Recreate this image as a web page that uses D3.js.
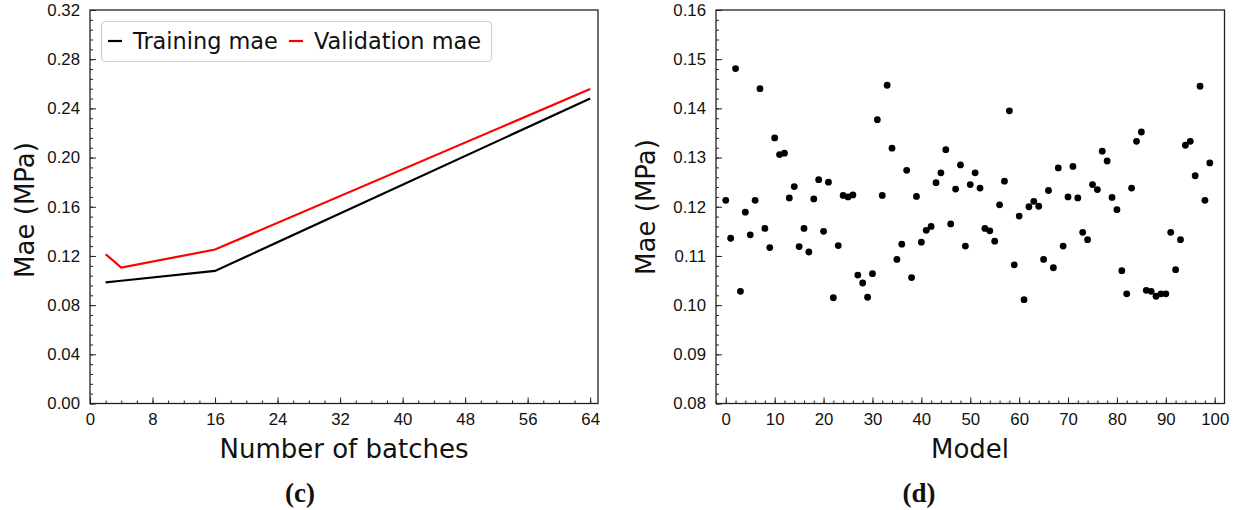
<!DOCTYPE html>
<html>
<head>
<meta charset="utf-8">
<script src="https://cdn.jsdelivr.net/npm/d3@7"></script>
<style>
  body { margin: 0; background: #fff; }
  svg { display: block; font-family: "DejaVu Sans", sans-serif; }
  .axis path { stroke: #222; stroke-width: 1.2; }
  .axis line { stroke: #222; stroke-width: 1; }
  .axis text { font-size: 16.8px; fill: #111; }
</style>
</head>
<body>
<svg id="chart" width="1238" height="510"></svg>
<script>
// --- panel (c): mae vs batches ---
const batches = [2, 4, 16, 64];
const trainMae = [0.0985, 0.0998, 0.1078, 0.2480];
const valMae = [0.1214, 0.1105, 0.1252, 0.2557];
const batchTicks = [0, 8, 16, 24, 32, 40, 48, 56, 64];
const maeTicksC = [0, 0.04, 0.08, 0.12, 0.16, 0.20, 0.24, 0.28, 0.32];

// --- panel (d): mae per model (index 0..99) ---
const modelMae = [
  0.1213, 0.1136, 0.1481, 0.1028, 0.1189, 0.1143, 0.1213, 0.1440, 0.1156, 0.1117,
  0.1340, 0.1306, 0.1309, 0.1218, 0.1241, 0.1119, 0.1156, 0.1108, 0.1216, 0.1255,
  0.1150, 0.1250, 0.1015, 0.1121, 0.1223, 0.1220, 0.1224, 0.1061, 0.1045, 0.1016,
  0.1064, 0.1377, 0.1223, 0.1447, 0.1319, 0.1093, 0.1124, 0.1274, 0.1056, 0.1221,
  0.1128, 0.1152, 0.1160, 0.1249, 0.1269, 0.1316, 0.1165, 0.1236, 0.1285, 0.1120,
  0.1245, 0.1269, 0.1238, 0.1156, 0.1151, 0.1130, 0.1204, 0.1252, 0.1395, 0.1082,
  0.1181, 0.1011, 0.1200, 0.1211, 0.1201, 0.1093, 0.1233, 0.1076, 0.1279, 0.1120,
  0.1220, 0.1282, 0.1218, 0.1148, 0.1133, 0.1245, 0.1235, 0.1313, 0.1293, 0.1219,
  0.1194, 0.1070, 0.1023, 0.1238, 0.1333, 0.1352, 0.1030, 0.1028, 0.1018, 0.1023,
  0.1023, 0.1148, 0.1072, 0.1133, 0.1325, 0.1333, 0.1263, 0.1445, 0.1213, 0.1289
];
const modelTicks = [0, 10, 20, 30, 40, 50, 60, 70, 80, 90, 100];
const maeTicksD = [0.08, 0.09, 0.10, 0.11, 0.12, 0.13, 0.14, 0.15, 0.16];

const svg = d3.select('#chart');

// draws a framed panel with inward major/minor ticks on left and bottom
function drawFrame(g, x, y, xMajor, xMinor, yMajor, yMinor, xFmt, yFmt) {
  const [x0, x1] = x.range();
  const [y0, y1] = y.range();

  g.append('g').attr('class', 'axis')
    .attr('transform', `translate(0,${y0})`)
    .call(d3.axisBottom(x).tickValues(xMinor).tickSize(-3).tickFormat(''))
    .call(s => s.select('.domain').remove());
  g.append('g').attr('class', 'axis')
    .attr('transform', `translate(0,${y0})`)
    .call(d3.axisBottom(x).tickValues(xMajor).tickSizeInner(-6).tickSizeOuter(0)
      .tickPadding(10).tickFormat(xFmt))
    .call(s => s.select('.domain').remove());

  g.append('g').attr('class', 'axis')
    .attr('transform', `translate(${x0},0)`)
    .call(d3.axisLeft(y).tickValues(yMinor).tickSize(-3).tickFormat(''))
    .call(s => s.select('.domain').remove());
  g.append('g').attr('class', 'axis')
    .attr('transform', `translate(${x0},0)`)
    .call(d3.axisLeft(y).tickValues(yMajor).tickSizeInner(-6).tickSizeOuter(0)
      .tickPadding(10).tickFormat(yFmt))
    .call(s => s.select('.domain').remove());

  g.append('rect')
    .attr('x', x0).attr('y', y1)
    .attr('width', x1 - x0).attr('height', y0 - y1)
    .attr('fill', 'none').attr('stroke', '#222').attr('stroke-width', 1.3);
}

function axisTitles(g, cx, cy, xTitle, yx, yTitle, label, lx) {
  g.append('text')
    .attr('x', cx).attr('y', 458)
    .attr('text-anchor', 'middle')
    .attr('font-size', 26).attr('fill', '#111')
    .text(xTitle);
  g.append('text')
    .attr('transform', `translate(${yx},${cy}) rotate(-90)`)
    .attr('text-anchor', 'middle')
    .attr('font-size', 26).attr('fill', '#111')
    .text(yTitle);
  g.append('text')
    .attr('x', lx).attr('y', 502)
    .attr('text-anchor', 'middle')
    .attr('font-family', '"Liberation Serif", serif')
    .attr('font-weight', 'bold')
    .attr('font-size', 27).attr('fill', '#111')
    .text(label);
}

// ---------- panel (c) ----------
const xC = d3.scaleLinear().domain([0, 65]).range([90, 598]);
const yC = d3.scaleLinear().domain([0, 0.32]).range([403.5, 10]);
const gC = svg.append('g');

const line = d3.line()
  .x((d, i) => xC(batches[i]))
  .y(d => yC(d));

gC.append('path').datum(trainMae)
  .attr('d', line).attr('fill', 'none')
  .attr('stroke', '#000').attr('stroke-width', 2.2);
gC.append('path').datum(valMae)
  .attr('d', line).attr('fill', 'none')
  .attr('stroke', '#f00').attr('stroke-width', 2.2);

drawFrame(gC, xC, yC,
  batchTicks, d3.range(0, 65, 2),
  maeTicksC, d3.range(0, 0.3201, 0.008),
  d3.format('d'), d3.format('.2f'));

axisTitles(gC, 344, 210, 'Number of batches', 34, 'Mae (MPa)', '(c)', 300);

// legend
const leg = gC.append('g');
leg.append('rect')
  .attr('x', 101.5).attr('y', 21.5).attr('width', 390).attr('height', 40)
  .attr('rx', 4).attr('fill', '#fff').attr('stroke', '#d0d0d0').attr('stroke-width', 1.2);
const legItems = [
  { name: 'Training mae', color: '#000', x: 108 },
  { name: 'Validation mae', color: '#f00', x: 289 }
];
legItems.forEach(it => {
  leg.append('line')
    .attr('x1', it.x).attr('x2', it.x + 14)
    .attr('y1', 41).attr('y2', 41)
    .attr('stroke', it.color).attr('stroke-width', 2.2);
  leg.append('text')
    .attr('x', it.x + 25).attr('y', 49)
    .attr('font-size', 22.4).attr('fill', '#111')
    .text(it.name);
});

// ---------- panel (d) ----------
const xD = d3.scaleLinear().domain([-2, 102]).range([716, 1224.5]);
const yD = d3.scaleLinear().domain([0.08, 0.16]).range([403.5, 10]);
const gD = svg.append('g');

drawFrame(gD, xD, yD,
  modelTicks, d3.range(-2, 102, 2),
  maeTicksD, d3.range(0.08, 0.1601, 0.002),
  d3.format('d'), d3.format('.2f'));

gD.append('g').selectAll('circle')
  .data(modelMae)
  .join('circle')
  .attr('cx', (d, i) => xD(i))
  .attr('cy', d => yD(d))
  .attr('r', 3.4)
  .attr('fill', '#000');

axisTitles(gD, 970, 207, 'Model', 655, 'Mae (MPa)', '(d)', 919);
</script>
</body>
</html>
